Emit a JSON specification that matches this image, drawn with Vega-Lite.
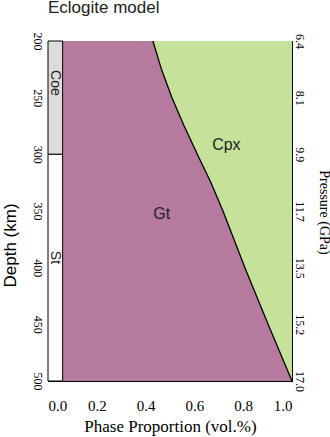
{
  "$schema": "https://vega.github.io/schema/vega-lite/v6.json",
  "autosize": "none",
  "width": 244,
  "height": 340,
  "padding": {"left": 48, "top": 41, "right": 38, "bottom": 56},
  "background": "white",
  "title": {"text": "Eclogite model", "anchor": "start", "frame": "group", "font": "Liberation Sans", "fontSize": 17, "fontWeight": "normal", "color": "#222222", "baseline": "alphabetic", "offset": 20, "dy": 18},
  "config": {"view": {"stroke": "black", "strokeWidth": 1}},
  "datasets": {
    "boundary": [
      {"depth": 200, "b": 0.43},
      {"depth": 225, "b": 0.465},
      {"depth": 250, "b": 0.508},
      {"depth": 275, "b": 0.558},
      {"depth": 300, "b": 0.612},
      {"depth": 325, "b": 0.668},
      {"depth": 350, "b": 0.717},
      {"depth": 375, "b": 0.762},
      {"depth": 400, "b": 0.807},
      {"depth": 450, "b": 0.902},
      {"depth": 500, "b": 1.0}
    ],
    "minor": [
      {"phase": "Coe", "x0": 0, "x1": 0.06, "d0": 200, "d1": 300, "lx": 0.027, "ld": 237},
      {"phase": "St", "x0": 0, "x1": 0.06, "d0": 300, "d1": 500, "lx": 0.027, "ld": 391}
    ],
    "labels": [
      {"label": "Gt", "x": 0.466, "depth": 353},
      {"label": "Cpx", "x": 0.731, "depth": 292}
    ]
  },
  "layer": [
    {
      "data": {"name": "boundary"},
      "mark": {"type": "area", "orient": "horizontal", "color": "#b57a9e"},
      "encoding": {
        "y": {"field": "depth", "type": "quantitative", "scale": {"domain": [200, 500], "reverse": true, "nice": false, "zero": false},
          "axis": {"orient": "left", "title": "Depth (km)", "values": [200, 225, 250, 275, 300, 325, 350, 375, 400, 425, 450, 475, 500],
            "labelExpr": "datum.value % 50 == 0 ? datum.label : ''", "grid": false, "tickSize": -4, "tickColor": "black", "domainColor": "black",
            "labelAngle": 90, "labelAlign": "center", "labelBaseline": "top", "labelPadding": 10, "labelFont": "Liberation Serif", "labelFontSize": 12, "labelColor": "black",
            "titleFont": "Liberation Sans", "titleFontSize": 17, "titleFontWeight": "normal", "titleColor": "black", "titleX": -38, "titleY": 204, "titleAngle": -90, "titleAlign": "center", "titleBaseline": "middle"}},
        "x": {"field": "b", "type": "quantitative", "scale": {"domain": [0, 1], "nice": false},
          "axis": {"orient": "bottom", "title": "Phase Proportion (vol.%)", "values": [0, 0.1, 0.2, 0.3, 0.4, 0.5, 0.6, 0.7, 0.8, 0.9, 1.0],
            "labelExpr": "round(datum.value * 10) % 2 == 0 ? format(datum.value, '.1f') : ''", "grid": false, "tickSize": -5, "tickColor": "black", "domainColor": "black",
            "labelPadding": 22, "labelFont": "Liberation Serif", "labelFontSize": 15, "labelColor": "black",
            "titleFont": "Liberation Serif", "titleFontSize": 17, "titleFontWeight": "normal", "titleColor": "black", "titlePadding": 5}},
        "x2": {"datum": 0.06}
      }
    },
    {
      "data": {"name": "boundary"},
      "mark": {"type": "area", "orient": "horizontal", "color": "#c5e19a"},
      "encoding": {
        "y": {"field": "depth", "type": "quantitative",
          "axis": {"orient": "right", "title": "Pressure (GPa)", "values": [200, 250, 300, 350, 400, 450, 500],
            "labelExpr": "datum.value == 200 ? '6.4' : datum.value == 250 ? '8.1' : datum.value == 300 ? '9.9' : datum.value == 350 ? '11.7' : datum.value == 400 ? '13.5' : datum.value == 450 ? '15.2' : '17.0'",
            "grid": false, "tickSize": -7, "tickColor": "black", "domainColor": "black",
            "labelAngle": 90, "labelAlign": "center", "labelBaseline": "bottom", "labelPadding": 7, "labelFont": "Liberation Serif", "labelFontSize": 12, "labelColor": "black",
            "titleFont": "Liberation Serif", "titleFontSize": 14, "titleFontWeight": "normal", "titleColor": "black", "titleAngle": 90, "titleX": 31, "titleY": 171, "titleAlign": "center", "titleBaseline": "middle"}},
        "x": {"field": "b", "type": "quantitative",
          "axis": {"orient": "top", "title": null, "labels": false, "values": [0, 0.1, 0.2, 0.3, 0.4, 0.5, 0.6, 0.7, 0.8, 0.9, 1.0], "grid": false, "tickSize": -5, "tickColor": "black", "domainColor": "black"}},
        "x2": {"datum": 1}
      }
    },
    {
      "data": {"name": "minor"},
      "mark": {"type": "rect", "stroke": "black", "strokeWidth": 1},
      "encoding": {
        "x": {"field": "x0", "type": "quantitative", "axis": null},
        "x2": {"field": "x1"},
        "y": {"field": "d0", "type": "quantitative", "axis": null},
        "y2": {"field": "d1"},
        "fill": {"field": "phase", "type": "nominal", "scale": {"domain": ["Coe", "St"], "range": ["#dcdcdc", "#ffffff"]}, "legend": null}
      }
    },
    {
      "data": {"name": "boundary"},
      "mark": {"type": "line", "color": "black", "strokeWidth": 1.3, "orient": "vertical"},
      "encoding": {
        "x": {"field": "b", "type": "quantitative", "axis": null},
        "y": {"field": "depth", "type": "quantitative", "axis": null},
        "order": {"field": "depth"}
      }
    },
    {
      "data": {"name": "minor"},
      "mark": {"type": "text", "angle": 90, "font": "Liberation Sans", "fontSize": 14, "color": "#222222", "align": "center", "baseline": "middle"},
      "encoding": {
        "x": {"field": "lx", "type": "quantitative", "axis": null},
        "y": {"field": "ld", "type": "quantitative", "axis": null},
        "text": {"field": "phase"}
      }
    },
    {
      "data": {"name": "labels"},
      "mark": {"type": "text", "font": "Liberation Sans", "fontSize": 16, "color": "#222222", "align": "center", "baseline": "middle"},
      "encoding": {
        "x": {"field": "x", "type": "quantitative", "axis": null},
        "y": {"field": "depth", "type": "quantitative", "axis": null},
        "text": {"field": "label"}
      }
    }
  ]
}
